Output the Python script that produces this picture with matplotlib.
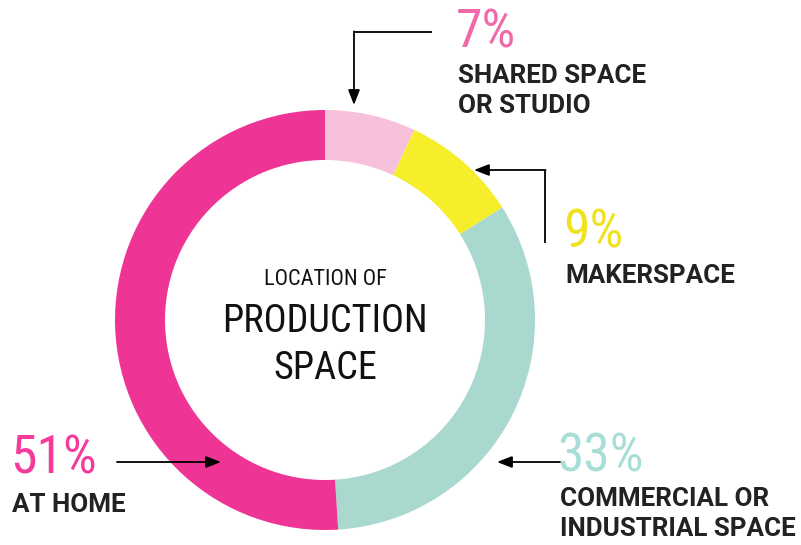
import matplotlib.pyplot as plt
from matplotlib import font_manager

# Location of production space (share of respondents, %)
categories = ['SHARED SPACE\nOR STUDIO', 'MAKERSPACE',
              'COMMERCIAL OR\nINDUSTRIAL SPACE', 'AT HOME']
shares = [7, 9, 33, 51]
ring_colors = ['#F7C1DC', '#F6EE2B', '#A9D8CE', '#EE3595']
pct_colors = ['#F06AAA', '#EFE21E', '#A8DED7', '#F43A9A']

# pick a condensed face for the big numbers and the centre title
installed = {f.name for f in font_manager.fontManager.ttflist}
narrow = 'DejaVu Sans'
for name in ['Roboto Condensed', 'Liberation Sans Narrow', 'DejaVu Sans Condensed']:
    if name in installed:
        narrow = name
        break

W, H = 801, 545
fig = plt.figure(figsize=(W / 100, H / 100), dpi=100)

# donut: centre (325, 320) px, outer radius 210 px, ring 50 px wide
cx, cy, r = 325, 320, 210
pie_ax = fig.add_axes([(cx - r) / W, (H - cy - r) / H, 2 * r / W, 2 * r / H])
pie_ax.pie(shares, colors=ring_colors, startangle=90, counterclock=False,
           radius=1, wedgeprops=dict(width=50 / r, linewidth=0))
pie_ax.set_xlim(-1, 1)
pie_ax.set_ylim(-1, 1)
pie_ax.set_aspect('equal')
pie_ax.axis('off')

# overlay in pixel coordinates for labels and arrows
ax = fig.add_axes([0, 0, 1, 1])
ax.set_xlim(0, W)
ax.set_ylim(H, 0)
ax.axis('off')
ax.patch.set_alpha(0)

# centre title
ax.text(cx, 285, 'LOCATION OF', family=narrow, fontsize=16, color='#111111',
        ha='center', va='baseline')
ax.text(cx, 332, 'PRODUCTION', family=narrow, fontsize=27.5, color='#111111',
        ha='center', va='baseline')
ax.text(cx, 379, 'SPACE', family=narrow, fontsize=27.5, color='#111111',
        ha='center', va='baseline')

# label blocks: (x, baseline of the percentage, baseline of first label line)
blocks = [(456, 47, 83), (563, 248, 283), (558, 472, 506), (10, 473, 512)]
for (x, y_pct, y_lab), share, label, col in zip(blocks, shares, categories, pct_colors):
    ax.text(x, y_pct, f'{share}%', family=narrow, fontsize=38.5,
            color=col, ha='left', va='baseline')
    for i, line in enumerate(label.split('\n')):
        ax.text(x + 2, y_lab + 30 * i, line, family=['Roboto', 'DejaVu Sans'],
                fontsize=18.7, fontweight='bold', color='#222222',
                ha='left', va='baseline')

arrow = dict(arrowstyle='-|>,head_length=0.9,head_width=0.35', color='black',
             lw=1.3, shrinkA=0, shrinkB=0)

# shared space: elbow from the right, pointing down at the ring
ax.plot([432, 354], [32, 32], color='black', lw=1.3, solid_capstyle='butt')
ax.annotate('', xy=(354, 105), xytext=(354, 31.4), arrowprops=arrow)

# makerspace: up then left into the yellow slice
ax.plot([545, 545], [243, 170], color='black', lw=1.3, solid_capstyle='butt')
ax.annotate('', xy=(474, 170), xytext=(545.6, 170), arrowprops=arrow)

# commercial / industrial
ax.annotate('', xy=(497, 462), xytext=(560, 462), arrowprops=arrow)

# at home
ax.annotate('', xy=(221, 462), xytext=(117, 462), arrowprops=arrow)

fig.savefig('out.png', dpi=100, facecolor='white')
